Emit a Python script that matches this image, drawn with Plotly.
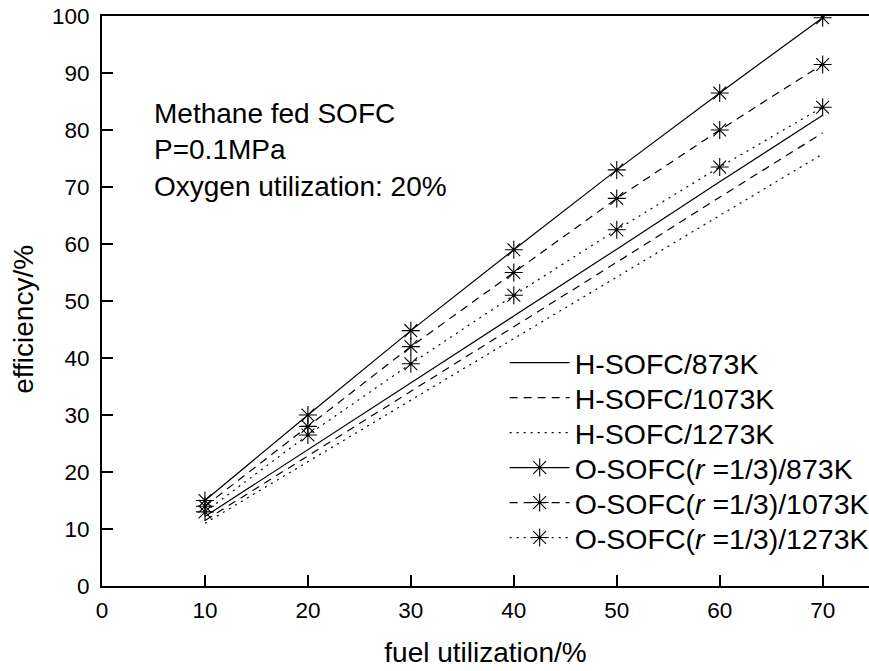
import plotly.graph_objects as go

fuel_util = [10, 20, 30, 40, 50, 60, 70]

h_873 = [12.2, 23.9, 35.6, 47.4, 59.1, 70.9, 82.6]
h_1073 = [11.5, 22.8, 34.2, 45.5, 56.8, 68.2, 79.5]
h_1273 = [11.0, 21.8, 32.6, 43.4, 54.2, 65.0, 75.8]
o_873 = [15.0, 30.0, 44.8, 59.0, 73.0, 86.5, 99.7]
o_1073 = [14.0, 28.0, 42.0, 55.0, 68.0, 80.0, 91.5]
o_1273 = [13.0, 26.5, 39.0, 51.0, 62.5, 73.5, 84.0]

names = ["H-SOFC/873K", "H-SOFC/1073K", "H-SOFC/1273K",
         "O-SOFC(<i>r</i> =1/3)/873K", "O-SOFC(<i>r</i> =1/3)/1073K", "O-SOFC(<i>r</i> =1/3)/1273K"]
series = [h_873, h_1073, h_1273, o_873, o_1073, o_1273]
dashes = ["solid", "8px,6px", "2px,5px", "solid", "8px,6px", "2px,5px"]
markers = [False, False, False, True, True, True]
legend_ids = ["legend", "legend2", "legend3", "legend4", "legend5", "legend6"]

FONT = "Arial, Liberation Sans, Helvetica, sans-serif"

fig = go.Figure()
for name, ys, dash, mk, lg in zip(names, series, dashes, markers, legend_ids):
    fig.add_trace(go.Scatter(
        x=fuel_util, y=ys, name=name, legend=lg,
        mode="lines+markers" if mk else "lines",
        line=dict(color="black", width=1.2, dash=dash),
        marker=dict(symbol="asterisk-open", size=15,
                    line=dict(color="black", width=1.1), color="black"),
    ))

fig.add_annotation(
    x=0, y=1, xref="paper", yref="paper",
    text="Methane fed SOFC<br>P=0.1MPa<br>Oxygen utilization: 20%",
    showarrow=False, xanchor="left", yanchor="top", align="left",
    xshift=50, yshift=-80,
    font=dict(family=FONT, size=28, color="black"),
)
fig.add_annotation(
    x=0, y=0.467, xref="paper", yref="paper",
    text="efficiency/%", textangle=-90, showarrow=False,
    xanchor="center", yanchor="middle", xshift=-78,
    font=dict(family=FONT, size=28, color="black"),
)

# one legend per row so that row spacing matches the reference
row_centers_px = [363, 398, 433, 468, 503, 538]  # page pixel rows of the legend
legend_layout = {}
for lg, yc in zip(legend_ids, row_centers_px):
    legend_layout[lg] = dict(
        x=0.525, y=(586 - yc) / 570, xanchor="left", yanchor="middle",
        bgcolor="rgba(0,0,0,0)", font=dict(size=28.5, family=FONT),
        itemwidth=60,
    )

fig.update_layout(
    width=869, height=671,
    margin=dict(l=102, r=0, t=16, b=85, autoexpand=False),
    paper_bgcolor="white", plot_bgcolor="white",
    font=dict(family=FONT, color="black"),
    showlegend=True,
    xaxis=dict(
        range=[0, 74.5], tickmode="array", tickvals=[0, 10, 20, 30, 40, 50, 60, 70],
        ticks="inside", ticklen=11, tickwidth=1.5, tickcolor="black",
        showline=True, linecolor="black", linewidth=2, mirror=True,
        showgrid=False, zeroline=False, automargin=False,
        ticklabeloverflow="allow", ticklabelstandoff=3,
        tickfont=dict(size=22.5, family=FONT),
        title=dict(text="fuel utilization/%", font=dict(size=28, family=FONT), standoff=20),
    ),
    yaxis=dict(
        range=[0, 100], tickmode="array", tickvals=[0, 10, 20, 30, 40, 50, 60, 70, 80, 90, 100],
        ticks="inside", ticklen=11, tickwidth=1.5, tickcolor="black",
        showline=True, linecolor="black", linewidth=2,
        showgrid=False, zeroline=False, automargin=False,
        ticklabeloverflow="allow", ticklabelstandoff=6,
        tickfont=dict(size=22.5, family=FONT),
    ),
    **legend_layout,
)

fig.write_html(
    "out.html",
    config={"displayModeBar": False},
    post_script="document.body.style.margin='0px';document.body.style.overflow='hidden';",
)
